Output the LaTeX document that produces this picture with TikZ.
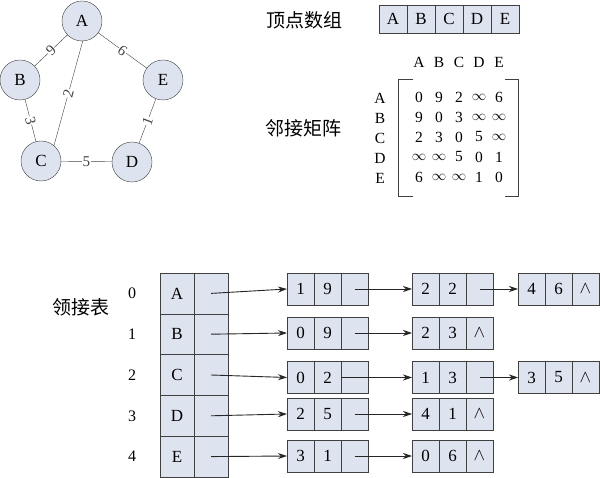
\documentclass[tikz,border=0pt]{standalone}
\usepackage{fontspec}
\setmainfont{Liberation Serif}
\newfontfamily\cjk{Noto Sans CJK SC}
\usetikzlibrary{arrows.meta,positioning}
\definecolor{cellfill}{HTML}{DDE4F0}
\definecolor{edgegray}{HTML}{404040}
\newcommand\infy{$\infty$}

\begin{document}
\begin{tikzpicture}[x=1pt,y=-1pt,>={Stealth[length=9pt,width=6pt]},vtx/.style={circle,draw=edgegray,fill=cellfill,minimum size=40pt,inner sep=0pt,font=\fontsize{17}{17}\selectfont},wt/.style={fill=white,inner sep=0.5pt,sloped,font=\fontsize{15}{15}\selectfont},cell/.style={draw=edgegray,fill=cellfill,outer sep=0pt,minimum width=27pt,minimum height=32pt,inner sep=0pt,font=\fontsize{17}{17}\selectfont},vcell/.style={cell,minimum width=28pt,minimum height=28pt},acell/.style={cell,minimum width=34pt,minimum height=40.8pt},mtxt/.style={inner sep=0pt,font=\fontsize{15.5}{15.5}\selectfont},lbl/.style={inner sep=0pt,font=\cjk\fontsize{19}{19}\selectfont},ptr/.style={->,line width=0.9pt,draw=black!85}]
\useasboundingbox (0,0) rectangle (600,478);
% graph
\node[vtx] (A) at (82,21) {A}; \node[vtx] (B) at (20,80) {B}; \node[vtx] (E) at (163,80) {E};
\node[vtx] (C) at (41,161) {C}; \node[vtx] (D) at (132,162) {D};
\draw[edgegray] (A) -- node[wt]{9} (B); \draw[edgegray] (A) -- node[wt]{6} (E);
\draw[edgegray] (A.-88) -- node[wt]{2} (C.50); \draw[edgegray] (B) -- node[wt]{3} (C);
\draw[edgegray] (C) -- node[wt]{5} (D); \draw[edgegray] (D) -- node[wt]{1} (E);
% vertex array and matrix
\node[lbl] (tvarr) at (304,20) {顶点数组};
\foreach \t [count=\i] in {A,B,C,D,E} \node[vcell] (v\i) at ({365+28*\i},19) {\t};
\node[lbl] (tmat) at (303,128) {邻接矩阵};
\foreach \t [count=\i] in {A,B,C,D,E} {\node[mtxt] (h\t) at ({399+20*\i},62) {\t}; \node[mtxt] (r\t) at (380,{78+20*\i}) {\t};}
\foreach \r/\vals [count=\i] in {A/{0,9,2,\infy,6},B/{9,0,3,\infy,\infy},C/{2,3,0,5,\infy},D/{\infy,\infy,5,0,1},E/{6,\infy,\infy,1,0}}
  \foreach \v [count=\j] in \vals \node[mtxt] (m\r\j) at ({399+20*\j},{77+20*\i}) {\v};
\draw[edgegray,line width=1pt] (413,80) -- (398,80) -- (398,197) -- (413,197);
\draw[edgegray,line width=1pt] (505,80) -- (518,80) -- (518,197) -- (505,197);
% adjacency list
\node[lbl] (tlist) at (81,307) {领接表};
\foreach \t [count=\i from 0] in {A,B,C,D,E} {\node[mtxt,font=\fontsize{16}{16}\selectfont] (k\i) at (132,{293.4+40.8*\i}) {\i};
  \node[acell] (a\i) at (177,{293.4+40.8*\i}) {\t}; \node[acell,right=0pt of a\i] (p\i) {};}
\foreach \n/\x/\y/\a/\b/\c in {l01/300.5/289/1/9/{},l02/425.5/289/2/2/{},l03/531.5/289/4/6/$\wedge$,l11/300.5/333/0/9/{},l12/425.5/333/2/3/$\wedge$,l21/300.5/377.5/0/2/{},l22/425.5/377.5/1/3/{},l23/531.5/377.5/3/5/$\wedge$,l31/300.5/414/2/5/{},l32/425.5/414/4/1/$\wedge$,l41/300.5/456/3/1/{},l42/425.5/456/0/6/$\wedge$}
  {\node[cell] (\n-a) at (\x,\y) {\a}; \node[cell,right=0pt of \n-a] (\n-b) {\b}; \node[cell,right=0pt of \n-b] (\n-c) {\c};}
\foreach \i in {0,...,4} \draw[ptr] (p\i.center) -- (l\i1-a.west);
\draw[ptr] (l01-c.center) -- (l02-a.west); \draw[ptr] (l02-c.center) -- (l03-a.west);
\draw[ptr] (l11-c.center) -- (l12-a.west);
\draw[ptr] (l21-c.west) -- (l22-a.west); \draw[ptr] (l22-c.center) -- (l23-a.west);
\draw[ptr] (l31-c.center) -- (l32-a.west); \draw[ptr] (l41-c.center) -- (l42-a.west);
\end{tikzpicture}
\end{document}
